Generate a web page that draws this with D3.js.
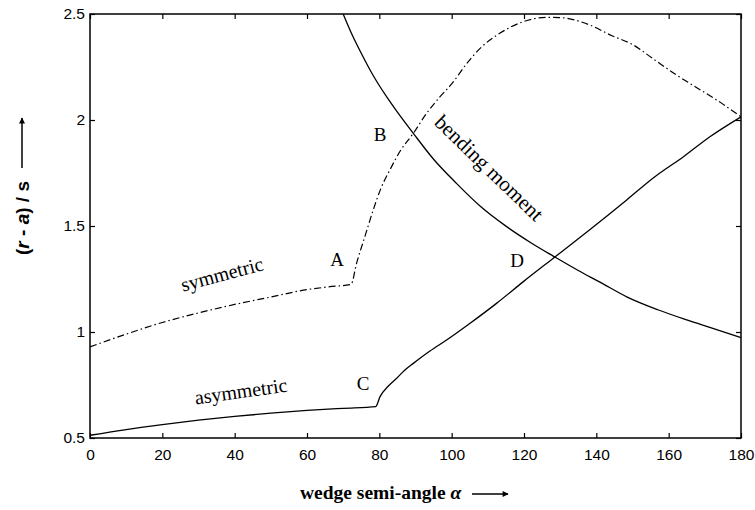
<!DOCTYPE html>
<html><head><meta charset="utf-8">
<script src="https://cdn.jsdelivr.net/npm/d3@7"></script>
<style>body{margin:0;background:#fff}svg{display:block}</style>
</head><body><svg id="c" width="755" height="510"></svg>
<script>
// x ticks and y ticks
const xTicks = [0,20,40,60,80,100,120,140,160,180];
const yTicks = [0.5,1,1.5,2,2.5];
const yTickLabels = ["0.5","1","1.5","2","2.5"];

// symmetric (dash-dot)
const symX = [0,10,20,30,40,50,60,66,72.2,73.7,76,78.3,80.5,82.9,86,89.4,93,96.8,100,104.2,108,113.4,119.8,126.3,130,138.2,144,150.2,156,162.2,168,173.3,180];
const symY = [0.93,0.99,1.045,1.09,1.13,1.165,1.2,1.213,1.225,1.324,1.45,1.575,1.68,1.764,1.86,1.937,2.03,2.11,2.17,2.267,2.34,2.41,2.464,2.484,2.483,2.448,2.40,2.354,2.285,2.212,2.15,2.094,2.015];

// asymmetric (solid)
const asymX = [0,10,20,30,40,50,60,70,79,80.2,82.5,84.8,87,89.4,94,98.6,105,112.4,120,128.1,138,148.4,156,164.1,171.4,180];
const asymY = [0.513,0.54,0.563,0.584,0.602,0.617,0.63,0.64,0.648,0.695,0.745,0.782,0.82,0.852,0.91,0.962,1.04,1.135,1.24,1.348,1.48,1.623,1.73,1.827,1.921,2.015];

// bending moment (solid)
const bendX = [70,72,75,78.3,82,85,89.4,95,101.4,108,115.2,122,128.1,135,141,148.4,157,165,172,180];
const bendY = [2.5,2.42,2.315,2.21,2.11,2.037,1.937,1.815,1.70,1.592,1.497,1.42,1.358,1.29,1.235,1.166,1.105,1.057,1.018,0.973];

const svg = d3.select("#c");
const L = 90, R = 741, T = 14, B = 438;
const x = d3.scaleLinear().domain([0,180]).range([L,R]);
const y = d3.scaleLinear().domain([0.5,2.5]).range([B,T]);

const sansFont = "'Liberation Sans', Arial, Helvetica, sans-serif";
const serifFont = "'Liberation Serif', 'Times New Roman', serif";

// axes (ticks inward)
const gb = svg.append("g").attr("transform",`translate(0,${B})`)
  .call(d3.axisBottom(x).tickValues(xTicks).tickSize(-5).tickPadding(11).tickFormat(d3.format("d")));
const gt = svg.append("g").attr("transform",`translate(0,${T})`)
  .call(d3.axisTop(x).tickValues(xTicks).tickSize(-5).tickFormat(""));
const gl = svg.append("g").attr("transform",`translate(${L},0)`)
  .call(d3.axisLeft(y).tickValues(yTicks).tickSize(-5).tickPadding(10).tickFormat((d,i)=>yTickLabels[i]));
const gr = svg.append("g").attr("transform",`translate(${R},0)`)
  .call(d3.axisRight(y).tickValues(yTicks).tickSize(-5).tickFormat(""));
[gb,gt,gl,gr].forEach(g=>{
  g.select(".domain").remove();
  g.selectAll(".tick line").attr("stroke","#000").attr("stroke-width",1.2);
  g.selectAll("text").attr("font-family",sansFont).attr("font-size",15.5).attr("fill","#000");
});
gl.selectAll("text").attr("x",-5);
svg.append("rect").attr("x",L).attr("y",T).attr("width",R-L).attr("height",B-T)
  .attr("fill","none").attr("stroke","#000").attr("stroke-width",1.5);

const line = d3.line().x(d=>x(d[0])).y(d=>y(d[1])).curve(d3.curveMonotoneX);
const zip = (a,b)=>a.map((v,i)=>[v,b[i]]);

svg.append("path").datum(zip(symX,symY)).attr("d",line)
  .attr("fill","none").attr("stroke","#000").attr("stroke-width",1.2)
  .attr("stroke-dasharray","7,3,1.5,3");
svg.append("path").datum(zip(asymX,asymY)).attr("d",line)
  .attr("fill","none").attr("stroke","#000").attr("stroke-width",1.3);
svg.append("path").datum(zip(bendX,bendY)).attr("d",line)
  .attr("fill","none").attr("stroke","#000").attr("stroke-width",1.3);

// curve labels
const lab = (txt,cx,cy,rot,size)=>svg.append("text").attr("transform",`translate(${cx},${cy}) rotate(${rot})`)
  .attr("text-anchor","middle").attr("dominant-baseline","central")
  .attr("font-family",serifFont).attr("font-size",size).attr("fill","#000").text(txt);
lab("symmetric",222,274,-15,20);
lab("asymmetric",241,391,-8,20);
lab("bending moment",489,168,44,21);
lab("A",337,259,0,19);
lab("B",380,134,0,19);
lab("C",363,383,0,19);
lab("D",517,260,0,19);

// x axis title
const xt = svg.append("text").attr("x",300).attr("y",499)
  .attr("font-family",serifFont).attr("font-size",19.5).attr("font-weight","bold").attr("fill","#000");
xt.append("tspan").text("wedge semi-angle ");
xt.append("tspan").attr("font-style","italic").text("α");
svg.append("defs").append("marker").attr("id","ah").attr("viewBox","0 0 10 10")
  .attr("refX",9).attr("refY",5).attr("markerWidth",11).attr("markerHeight",6)
  .attr("markerUnits","userSpaceOnUse").attr("orient","auto")
  .append("path").attr("d","M0,0L10,5L0,10Z").attr("fill","#000");
svg.append("line").attr("x1",472).attr("x2",508).attr("y1",494).attr("y2",494)
  .attr("stroke","#000").attr("stroke-width",1.5).attr("marker-end","url(#ah)");

// y axis title
const yt = svg.append("text").attr("transform","translate(29,218) rotate(-90)")
  .attr("text-anchor","middle")
  .attr("font-family",sansFont).attr("font-size",19).attr("font-weight","bold").attr("fill","#000");
yt.append("tspan").text("(");
yt.append("tspan").attr("font-style","italic").text("r");
yt.append("tspan").text(" - ");
yt.append("tspan").attr("font-style","italic").text("a");
yt.append("tspan").text(") / s");
svg.append("line").attr("x1",22).attr("x2",22).attr("y1",168).attr("y2",118)
  .attr("stroke","#000").attr("stroke-width",1.5).attr("marker-end","url(#ah)");
</script></body></html>
